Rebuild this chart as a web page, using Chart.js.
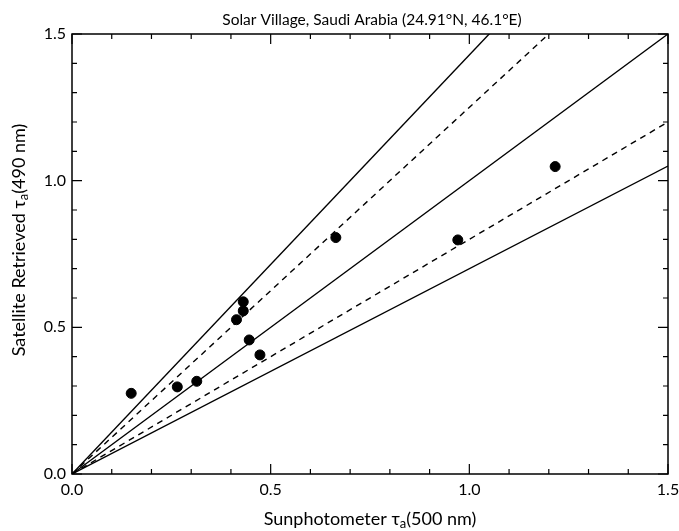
<!DOCTYPE html>
<html>
<head>
<meta charset="utf-8">
<script src="https://cdn.jsdelivr.net/npm/chart.js@4.4.1/dist/chart.umd.min.js"></script>
<style>
  html, body { margin: 0; padding: 0; background: #fff; }
  #wrap { width: 679px; height: 531px; }
</style>
</head>
<body>
<div id="wrap"><canvas id="c" width="679" height="531"></canvas></div>
<script>
// ---- data ----
const titleText = 'Solar Village, Saudi Arabia (24.91\u00B0N, 46.1\u00B0E)';
const sunphotometer = [0.149, 0.265, 0.314, 0.414, 0.431, 0.431, 0.446, 0.473, 0.664, 0.971, 1.216];
const satellite     = [0.275, 0.297, 0.316, 0.526, 0.587, 0.556, 0.457, 0.406, 0.806, 0.798, 1.048];
const solidSlopes  = [1 / 0.7, 1.0, 0.7];
const dashedSlopes = [1 / 0.8, 0.8];
const axisMin = 0, axisMax = 1.5;
const tickLabels = ['0.0', '0.5', '1.0', '1.5'];
const majorStep = 0.5, minorStep = 0.1;

const FONT = 'Lato, "Open Sans", sans-serif';

function lineData(slope) {
  return [{ x: axisMin, y: axisMin * slope }, { x: axisMax, y: axisMax * slope }];
}

const datasets = [{
  type: 'scatter',
  data: sunphotometer.map((v, i) => ({ x: v, y: satellite[i] })),
  backgroundColor: '#000',
  borderColor: '#000',
  pointRadius: 5,
  pointHoverRadius: 5
}];
solidSlopes.forEach(s => datasets.push({
  type: 'line', data: lineData(s), borderColor: '#000', borderWidth: 1.4,
  pointRadius: 0, fill: false
}));
dashedSlopes.forEach(s => datasets.push({
  type: 'line', data: lineData(s), borderColor: '#000', borderWidth: 1.4,
  borderDash: [6, 5], pointRadius: 0, fill: false
}));

const frameTicks = {
  id: 'frameTicks',
  afterDatasetsDraw(chart) {
    const { ctx, chartArea: { left, right, top, bottom }, scales: { x, y } } = chart;
    ctx.save();
    ctx.strokeStyle = '#000';
    ctx.lineWidth = 1.5;
    ctx.strokeRect(left, top, right - left, bottom - top);
    ctx.lineWidth = 1.2;
    const n = Math.round((axisMax - axisMin) / minorStep);
    for (let i = 0; i <= n; i++) {
      const v = axisMin + i * minorStep;
      const major = Math.abs(v / majorStep - Math.round(v / majorStep)) < 1e-6;
      const len = major ? 10 : 5;
      const px = x.getPixelForValue(v);
      const py = y.getPixelForValue(v);
      ctx.beginPath();
      ctx.moveTo(px, bottom); ctx.lineTo(px, bottom - len);
      ctx.moveTo(px, top); ctx.lineTo(px, top + len);
      ctx.moveTo(left, py); ctx.lineTo(left + len, py);
      ctx.moveTo(right, py); ctx.lineTo(right - len, py);
      ctx.stroke();
    }
    ctx.restore();
  }
};

function drawSubTitle(ctx, parts, size) {
  ctx.font = size + 'px ' + FONT;
  const w1 = ctx.measureText(parts[0]).width;
  const w3 = ctx.measureText(parts[2]).width;
  const subSize = Math.round(size * 0.72);
  ctx.font = subSize + 'px ' + FONT;
  const w2 = ctx.measureText(parts[1]).width;
  const total = w1 + w2 + w3;
  let cx = -total / 2;
  ctx.textBaseline = 'middle';
  ctx.textAlign = 'left';
  ctx.font = size + 'px ' + FONT;
  ctx.fillText(parts[0], cx, 0); cx += w1;
  ctx.font = subSize + 'px ' + FONT;
  ctx.fillText(parts[1], cx, size * 0.28); cx += w2;
  ctx.font = size + 'px ' + FONT;
  ctx.fillText(parts[2], cx, 0);
}

const texts = {
  id: 'texts',
  afterDraw(chart) {
    const { ctx, chartArea: { left, right, top, bottom } } = chart;
    const cxPlot = (left + right) / 2;
    ctx.save();
    ctx.fillStyle = '#000';
    ctx.font = '15.5px ' + FONT;
    ctx.textAlign = 'center';
    ctx.textBaseline = 'middle';
    ctx.fillText(titleText, cxPlot + 2, 20);
    ctx.restore();

    ctx.save();
    ctx.fillStyle = '#000';
    ctx.translate(cxPlot, 519);
    drawSubTitle(ctx, ['Sunphotometer \u03C4', 'a', '(500 nm)'], 18);
    ctx.restore();

    ctx.save();
    ctx.fillStyle = '#000';
    ctx.translate(19, 240);
    ctx.rotate(-Math.PI / 2);
    drawSubTitle(ctx, ['Satellite Retrieved \u03C4', 'a', '(490 nm)'], 18);
    ctx.restore();
  }
};

function tickCb(value) {
  const idx = Math.round((value - axisMin) / majorStep);
  return tickLabels[idx] !== undefined ? tickLabels[idx] : '';
}

new Chart(document.getElementById('c'), {
  data: { datasets },
  options: {
    responsive: false,
    animation: false,
    events: [],
    layout: { padding: { left: 0, right: 11, top: 34, bottom: 0 } },
    plugins: {
      legend: { display: false },
      tooltip: { enabled: false },
      title: { display: false }
    },
    scales: {
      x: {
        type: 'linear', min: axisMin, max: axisMax,
        grid: { display: false, drawTicks: false },
        border: { display: false },
        ticks: { stepSize: majorStep, callback: tickCb, color: '#000', padding: 6,
                 maxRotation: 0, font: { family: FONT, size: 16 } },
        afterFit(scale) { scale.height = 57; scale.paddingLeft = 0; scale.paddingRight = 0; }
      },
      y: {
        type: 'linear', min: axisMin, max: axisMax,
        grid: { display: false, drawTicks: false },
        border: { display: false },
        ticks: { stepSize: majorStep, callback: tickCb, color: '#000', padding: 6,
                 font: { family: FONT, size: 16 } },
        afterFit(scale) { scale.width = 72; scale.paddingTop = 0; scale.paddingBottom = 0; }
      }
    }
  },
  plugins: [frameTicks, texts]
});
</script>
</body>
</html>
